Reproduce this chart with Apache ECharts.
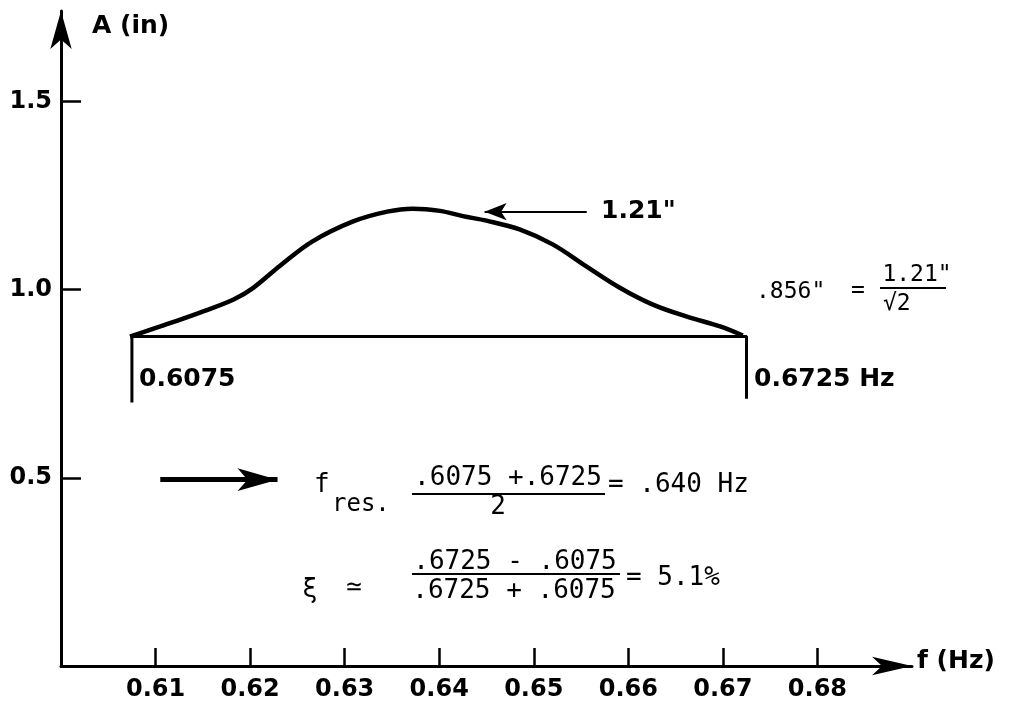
<!DOCTYPE html>
<html>
<head>
<meta charset="utf-8">
<script src="https://cdn.jsdelivr.net/npm/echarts@6/dist/echarts.min.js"></script>
<style>
  html, body { margin: 0; padding: 0; background: #fff; }
  #chart { width: 1011px; height: 705px; }
</style>
</head>
<body>
<div id="chart"></div>
<script>
// response curve
const freqs = [0.6073, 0.6105, 0.6147, 0.6182, 0.6203, 0.6232, 0.6266, 0.6309, 0.6345, 0.6372,
  0.6401, 0.6425, 0.6450, 0.6485, 0.6520, 0.6556, 0.6591, 0.6626, 0.6662, 0.6697, 0.6721]
const amps = [0.875, 0.902, 0.939, 0.973, 1.004, 1.064, 1.128, 1.181, 1.207, 1.215,
  1.209, 1.195, 1.183, 1.160, 1.120, 1.061, 1.005, 0.960, 0.928, 0.902, 0.878]

// half-power band bracket
const bandFreq = [0.6075, 0.6075, 0.6725, 0.6725]
const bandAmp = [0.70, 0.875, 0.875, 0.71]

// arrows (tail, tip) in data units
const peakArrow = [[0.6556, 1.207], [0.6448, 1.207]]
const resArrow = [[0.6105, 0.495], [0.6229, 0.495]]

const xTicks = [0.61, 0.62, 0.63, 0.64, 0.65, 0.66, 0.67, 0.68]
const xTickLabels = ['0.61', '0.62', '0.63', '0.64', '0.65', '0.66', '0.67', '0.68']
const yTicks = [0.5, 1.0, 1.5]
const yTickLabels = ['0.5', '1.0', '1.5']

const INK = '#000'
const labelFont = '"DejaVu Sans", sans-serif'
const typeFont = '"DejaVu Sans Mono", "Liberation Mono", monospace'

const pickLabel = (ticks, labels) => v => {
  const i = ticks.findIndex(t => Math.abs(t - v) < 1e-6)
  return i < 0 ? '' : labels[i]
}

// typed annotations (mono) and hand lettering (bold sans)
const txt = (text, x, y, opts = {}) => ({
  type: 'text',
  x, y,
  style: {
    text,
    fill: INK,
    fontFamily: opts.bold ? labelFont : typeFont,
    fontWeight: opts.bold ? 'bold' : 'normal',
    fontSize: opts.size || 26,
    align: opts.align || 'left',
    verticalAlign: 'middle',
  },
})
const rule = (x1, x2, y) => ({
  type: 'line',
  shape: { x1, y1: y, x2, y2: y },
  style: { stroke: INK, lineWidth: 2 },
})

const chart = echarts.init(document.getElementById('chart'))
chart.setOption({
  backgroundColor: '#fff',
  animation: false,
  grid: { left: 61, right: 99, top: 11, bottom: 39 },
  xAxis: {
    type: 'value',
    min: 0.6,
    max: 0.69,
    axisLine: {
      lineStyle: { color: INK, width: 3 },
      symbol: ['none', 'arrow'],
      symbolSize: [14, 40],
    },
    axisTick: { inside: true, length: 18, lineStyle: { color: INK, width: 2.5 }, customValues: xTicks },
    axisLabel: {
      customValues: xTicks,
      formatter: pickLabel(xTicks, xTickLabels),
      color: INK,
      fontFamily: labelFont,
      fontWeight: 'bold',
      fontSize: 24,
      margin: 12,
    },
    splitLine: { show: false },
  },
  yAxis: {
    type: 'value',
    min: 0,
    max: 1.74,
    axisLine: {
      show: true,
      lineStyle: { color: INK, width: 3 },
      symbol: ['none', 'arrow'],
      symbolSize: [16, 38],
    },
    axisTick: { show: true, inside: true, length: 20, lineStyle: { color: INK, width: 2.5 }, customValues: yTicks },
    axisLabel: {
      customValues: yTicks,
      formatter: pickLabel(yTicks, yTickLabels),
      color: INK,
      fontFamily: labelFont,
      fontWeight: 'bold',
      fontSize: 24,
      margin: 9,
    },
    splitLine: { show: false },
  },
  series: [
    {
      name: 'response',
      type: 'line',
      smooth: 0.35,
      showSymbol: false,
      lineStyle: { color: INK, width: 4.5 },
      data: freqs.map((f, i) => [f, amps[i]]),
      markLine: {
        silent: true,
        symbol: ['none', 'arrow'],
        label: { show: false },
        lineStyle: { color: INK, type: 'solid', width: 5 },
        data: [
          [
            { coord: peakArrow[0], symbolSize: 0 },
            { coord: peakArrow[1], symbol: 'arrow', symbolSize: [13, 22], lineStyle: { width: 2 } },
          ],
          [
            { coord: resArrow[0], symbolSize: 0 },
            { coord: resArrow[1], symbol: 'arrow', symbolSize: [17, 40] },
          ],
        ],
      },
    },
    {
      name: 'band',
      type: 'line',
      showSymbol: false,
      lineStyle: { color: INK, width: 3 },
      data: bandFreq.map((f, i) => [f, bandAmp[i]]),
    },
  ],
  graphic: [
    // axis names
    txt('A (in)', 92, 26, { bold: true, size: 25 }),
    txt('f (Hz)', 917, 661, { bold: true, size: 25 }),
    // band edge labels
    txt('0.6075', 139, 379, { bold: true, size: 25 }),
    txt('0.6725 Hz', 754, 379, { bold: true, size: 25 }),
    txt('1.21"', 601, 211, { bold: true, size: 25 }),
    // .856" = 1.21"/sqrt2
    txt('.856"', 756, 292, { size: 23 }),
    txt('=', 858, 291, { size: 23, align: 'center' }),
    txt('1.21"', 917, 275, { size: 23, align: 'center' }),
    rule(880, 946, 288),
    txt('√2', 883, 304, { size: 23 }),
    // resonance
    txt('f', 314, 485),
    txt('res.', 332, 505, { size: 24 }),
    txt('.6075 +.6725', 508, 478, { align: 'center' }),
    rule(412, 605, 494),
    txt('2', 498, 507, { align: 'center' }),
    txt('= .640 Hz', 608, 485),
    // damping
    txt('ξ', 302, 590),
    txt('≃', 354, 588, { align: 'center' }),
    txt('.6725 - .6075', 515, 562, { align: 'center' }),
    rule(412, 620, 574),
    txt('.6725 + .6075', 514, 591, { align: 'center' }),
    txt('= 5.1%', 626, 578),
  ],
})
</script>
</body>
</html>
